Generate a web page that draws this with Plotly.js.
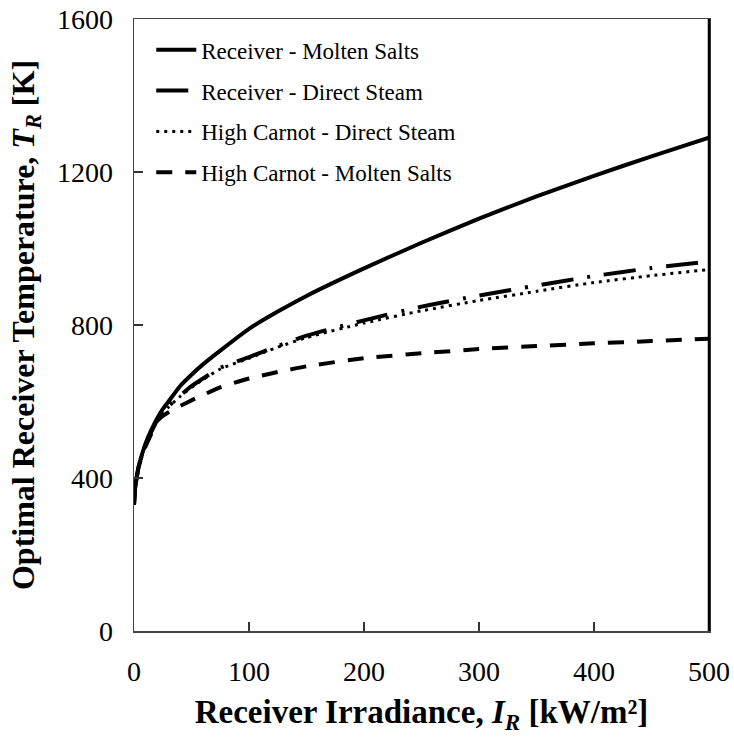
<!DOCTYPE html>
<html>
<head>
<meta charset="utf-8">
<script src="https://cdn.plot.ly/plotly-3.0.1.min.js"></script>
<style>
  html, body { margin: 0; padding: 0; background: #fff; }
  #chart { width: 734px; height: 740px; }
</style>
</head>
<body>
<div id="chart"></div>
<script>
// Receiver irradiance I_R [kW/m2]
const irradiance = [0, 1, 2, 4, 7, 10, 15, 20, 25, 30, 40, 50, 60, 75, 100, 125, 150, 200, 250, 300, 350, 400, 450, 500];

// Optimal receiver temperature T_R [K] for each case
const receiverMoltenSalts = [330, 375, 395, 430, 462, 490, 525, 555, 580, 600, 640, 670, 697, 733, 790, 835, 876, 948, 1015, 1078, 1136, 1190, 1241, 1290];
const receiverDirectSteam = [330, 375, 395, 430, 460, 487, 520, 550, 570, 587, 615, 640, 660, 688, 716, 745, 772, 812, 848, 877, 903, 928, 949, 966];
const highCarnotDirectSteam = [330, 375, 395, 430, 460, 487, 520, 549, 568, 585, 613, 637, 657, 685, 713, 742, 767, 805, 837, 864, 888, 911, 929, 945];
const highCarnotMoltenSalts = [330, 375, 395, 428, 457, 482, 515, 548, 562, 572, 588, 603, 617, 637, 660, 677, 692, 713, 726, 737, 745, 752, 758, 764];

const seriesNames = [
  'Receiver - Molten Salts',
  'Receiver - Direct Steam',
  'High Carnot - Direct Steam',
  'High Carnot - Molten Salts'
];

const xTicks = [0, 100, 200, 300, 400, 500];
const yTicks = [0, 400, 800, 1200, 1600];

const serif = 'Liberation Serif, Times New Roman, serif';

function trace(y, name, group, line) {
  return {
    x: irradiance, y: y, name: name, legendgroup: group,
    type: 'scatter', mode: 'lines',
    line: Object.assign({ color: '#000', shape: 'spline', smoothing: 0.6 }, line),
    hoverinfo: 'x+y'
  };
}

const data = [
  trace(receiverMoltenSalts, seriesNames[0], 'g1', { width: 4 }),
  trace(receiverDirectSteam, seriesNames[1], 'g2', { width: 4, dash: '32px,14px,3px,14px' }),
  trace(highCarnotDirectSteam, seriesNames[2], 'g3', { width: 3, dash: '3px,5px' }),
  trace(highCarnotMoltenSalts, seriesNames[3], 'g4', { width: 4, dash: '16px,13px' })
];

const axisCommon = {
  showgrid: false,
  zeroline: false,
  showline: true,
  linecolor: '#444',
  linewidth: 1.5,
  mirror: true,
  ticks: 'inside',
  ticklen: 9,
  tickwidth: 1.5,
  tickcolor: '#333',
  tickfont: { family: serif, size: 28, color: '#000' }
};

const layout = {
  width: 734,
  height: 740,
  margin: { l: 134, r: 25, t: 19, b: 109 },
  paper_bgcolor: '#fff',
  plot_bgcolor: '#fff',
  showlegend: true,
  legend: {
    x: 0.03, y: 0.985, xanchor: 'left', yanchor: 'top',
    bgcolor: 'rgba(0,0,0,0)',
    font: { family: serif, size: 23, color: '#000' },
    tracegroupgap: 8,
    itemwidth: 40
  },
  xaxis: Object.assign({}, axisCommon, {
    range: [0, 500],
    tickvals: xTicks,
    ticktext: xTicks.map(String),
    ticklabelstandoff: 15,
    title: {
      text: '<b>Receiver Irradiance, <i>I<sub>R</sub></i> [kW/m²]</b>',
      font: { family: serif, size: 33, color: '#000' },
      standoff: 14
    }
  }),
  yaxis: Object.assign({}, axisCommon, {
    range: [0, 1600],
    tickvals: yTicks,
    ticktext: yTicks.map(String),
    ticklabelstandoff: 14,
    title: {
      text: '<b>Optimal Receiver Temperature, <i>T<sub>R</sub></i> [K]</b>',
      font: { family: serif, size: 32, color: '#000' },
      standoff: 12
    }
  }),
  shapes: [{
    type: 'line', xref: 'paper', yref: 'paper',
    x0: 1, x1: 1, y0: 0, y1: 1,
    line: { color: '#000', width: 2.5 }
  }]
};

Plotly.newPlot('chart', data, layout, { displayModeBar: false, staticPlot: true });
</script>
</body>
</html>
